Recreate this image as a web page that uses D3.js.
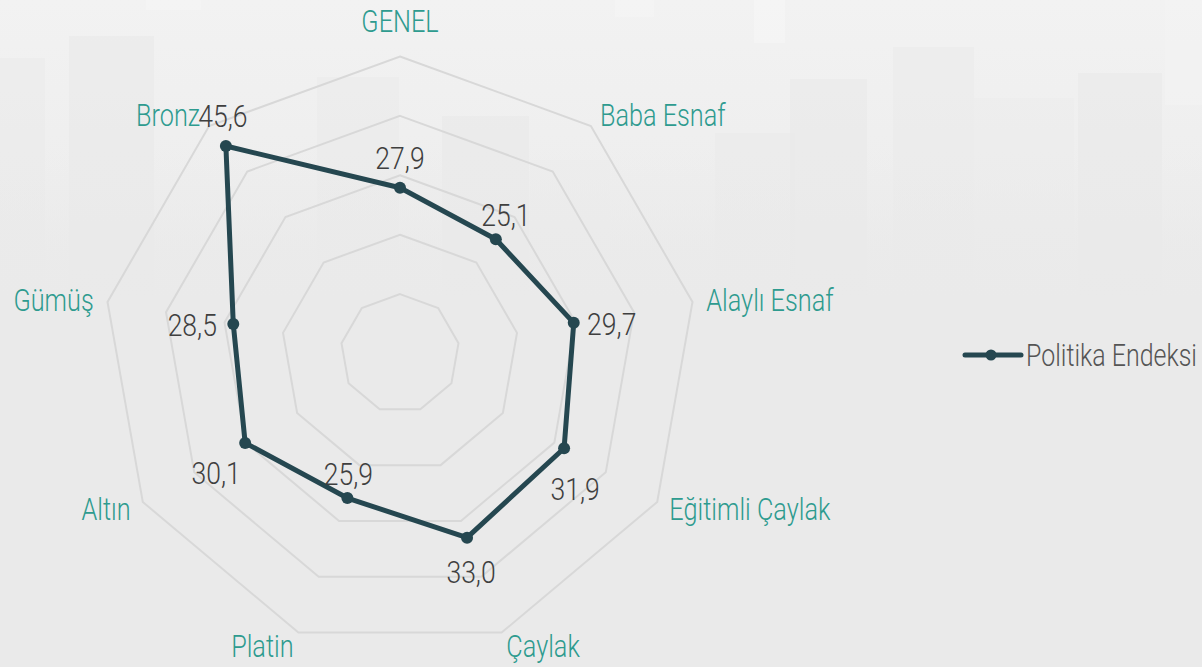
<!DOCTYPE html>
<html>
<head>
<meta charset="utf-8">
<script src="https://cdn.jsdelivr.net/npm/d3@7"></script>
<style>
  html, body { margin: 0; padding: 0; overflow: hidden; }
  body { width: 1202px; height: 667px; }
  text { font-family: Roboto, "Liberation Sans", sans-serif; font-weight: 300; }
</style>
</head>
<body>
<svg id="chart" width="1202" height="667"></svg>
<script>
const categories = ["GENEL", "Baba Esnaf", "Alaylı Esnaf", "Eğitimli Çaylak", "Çaylak", "Platin", "Altın", "Gümüş", "Bronz"]
const values = [27.9, 25.1, 29.7, 31.9, 33.0, 25.9, 30.1, 28.5, 45.6]
const seriesName = "Politika Endeksi"
const ringTicks = [10, 20, 30, 40, 50]

// where each value label sits around its point (dx, dy)
const valueLabelOffsets = [[0, -30], [10, -24], [38, 1], [11, 41], [4, 34], [1, -24], [-29, 30], [-41, 1], [-3, -30]]

// faint skyline in the background picture: [x, y, w, h, fill]
const skyline = [
    [0, 58, 45, 420, "#e9e9e9"], [69, 36, 85, 420, "#e8e8e8"], [317, 77, 82, 400, "#e9e9e9"],
    [442, 116, 87, 360, "#e8e8e8"], [530, 160, 80, 300, "#ebebeb"], [715, 133, 80, 330, "#e9e9e9"],
    [790, 79, 77, 380, "#e8e8e8"], [893, 47, 81, 420, "#e9e9e9"], [974, 98, 100, 360, "#ebebeb"],
    [1078, 73, 84, 400, "#e8e8e8"], [146, 0, 55, 10, "#f6f6f6"], [615, 0, 39, 17, "#f6f6f6"],
    [754, 0, 31, 43, "#f7f7f7"], [1165, 0, 37, 105, "#f4f4f4"]
]

const width = 1202, height = 667
const cx = 400, cy = 353.5, radius = 297
const lineColor = "#254750", labelColor = "#2e9b8f", valueColor = "#3f3f3f"
// the reference face is a narrow one, so Roboto gets squeezed sideways
const labelSqueeze = 0.79, valueSqueeze = 0.83, legendSqueeze = 0.78

const svg = d3.select("#chart")
const defs = svg.append("defs")
const grad = defs.append("linearGradient").attr("id", "bg").attr("x1", 0).attr("y1", 0).attr("x2", 0).attr("y2", 1)
grad.append("stop").attr("offset", "0%").attr("stop-color", "#f2f2f2")
grad.append("stop").attr("offset", "40%").attr("stop-color", "#ececec")
grad.append("stop").attr("offset", "100%").attr("stop-color", "#e9e9e9")

svg.append("rect").attr("width", width).attr("height", height).attr("fill", "url(#bg)")
svg.append("g").selectAll("rect")
    .data(skyline)
    .join("rect")
    .attr("x", d => d[0]).attr("y", d => d[1])
    .attr("width", d => d[2]).attr("height", d => d[3])
    .attr("fill", d => d[4])
    .attr("opacity", 0.5)
// fade the skyline into the plain lower part
const fade = defs.append("linearGradient").attr("id", "fade").attr("x1", 0).attr("y1", 0).attr("x2", 0).attr("y2", 1)
fade.append("stop").attr("offset", "0%").attr("stop-color", "#eaeaea").attr("stop-opacity", 0)
fade.append("stop").attr("offset", "100%").attr("stop-color", "#eaeaea").attr("stop-opacity", 1)
svg.append("rect").attr("y", 150).attr("width", width).attr("height", 150).attr("fill", "url(#fade)")
svg.append("rect").attr("y", 300).attr("width", width).attr("height", 367).attr("fill", "#eaeaea")

const angle = d3.scaleLinear().domain([0, categories.length]).range([0, 2 * Math.PI])
const r = d3.scaleLinear().domain([0, 50]).range([0, radius])

const px = (i, v) => cx + r(v) * Math.sin(angle(i))
const py = (i, v) => cy - r(v) * Math.cos(angle(i))

// grid rings
const ringLine = d3.lineRadial()
    .angle((d, i) => angle(i))
    .radius(d => r(d))
    .curve(d3.curveLinearClosed)

svg.append("g")
    .attr("transform", `translate(${cx},${cy})`)
    .selectAll("path")
    .data(ringTicks)
    .join("path")
    .attr("d", t => ringLine(categories.map(() => t)))
    .attr("fill", "none")
    .attr("stroke", "#d8d8d8")
    .attr("stroke-width", 2)

// axis labels
const labelR = 311
svg.append("g").selectAll("text")
    .data(categories)
    .join("text")
    .attr("transform", (d, i) => {
        const x = cx + labelR * Math.sin(angle(i))
        const y = cy - labelR * Math.cos(angle(i)) + (i === 0 ? -22 : 0)
        return `translate(${x},${y}) scale(${labelSqueeze},1)`
    })
    .attr("dy", "0.35em")
    .attr("text-anchor", (d, i) => {
        const s = Math.sin(angle(i))
        return Math.abs(s) < 0.01 ? "middle" : (s > 0 ? "start" : "end")
    })
    .attr("fill", labelColor)
    .attr("font-size", 32)
    .text(d => d)

// series line
const seriesLine = d3.lineRadial()
    .angle((d, i) => angle(i))
    .radius(d => r(d))
    .curve(d3.curveLinearClosed)

svg.append("path")
    .attr("transform", `translate(${cx},${cy})`)
    .attr("d", seriesLine(values))
    .attr("fill", "none")
    .attr("stroke", lineColor)
    .attr("stroke-width", 5)
    .attr("stroke-linejoin", "round")

svg.append("g").selectAll("circle")
    .data(values)
    .join("circle")
    .attr("cx", (d, i) => px(i, d))
    .attr("cy", (d, i) => py(i, d))
    .attr("r", 6)
    .attr("fill", lineColor)

// value labels
const fmt = d3.formatLocale({decimal: ",", thousands: ".", grouping: [3], currency: ["", "₺"]}).format(".1f")
svg.append("g").selectAll("text")
    .data(values)
    .join("text")
    .attr("transform", (d, i) => `translate(${px(i, d) + valueLabelOffsets[i][0]},${py(i, d) + valueLabelOffsets[i][1]}) scale(${valueSqueeze},1)`)
    .attr("dy", "0.35em")
    .attr("text-anchor", "middle")
    .attr("fill", valueColor)
    .attr("font-size", 32)
    .text(d => fmt(d))

// legend
const legend = svg.append("g").attr("transform", "translate(965,355)")
legend.append("line")
    .attr("x1", 0).attr("x2", 56)
    .attr("stroke", lineColor).attr("stroke-width", 5).attr("stroke-linecap", "round")
legend.append("circle").attr("cx", 26).attr("r", 5.5).attr("fill", lineColor)
legend.append("text")
    .attr("transform", `translate(61,0) scale(${legendSqueeze},1)`)
    .attr("dy", "0.35em")
    .attr("fill", "#555")
    .attr("font-size", 32)
    .text(seriesName)
</script>
</body>
</html>
